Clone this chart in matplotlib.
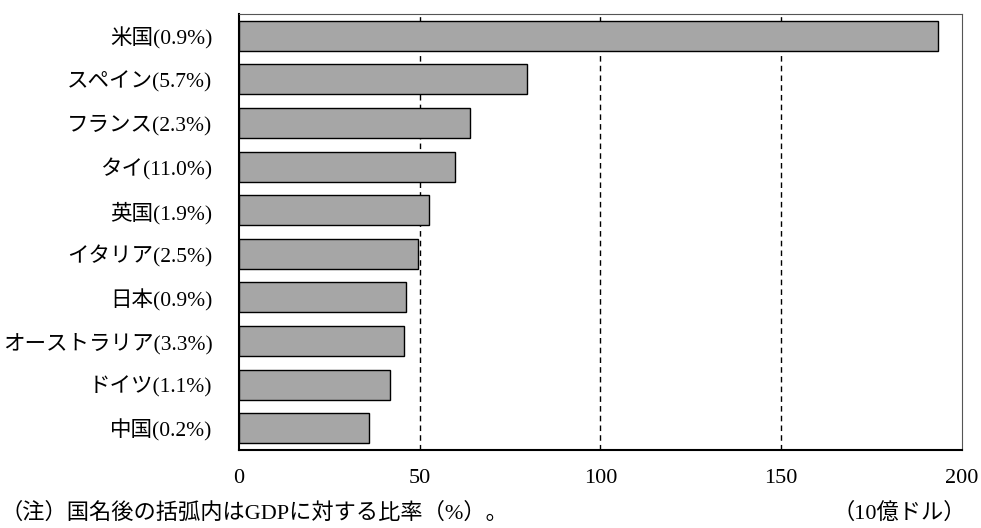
import matplotlib
matplotlib.use("Agg")
import matplotlib.pyplot as plt

categories = ["米国(0.9%)", "スペイン(5.7%)", "フランス(2.3%)", "タイ(11.0%)", "英国(1.9%)",
              "イタリア(2.5%)", "日本(0.9%)", "オーストラリア(3.3%)", "ドイツ(1.1%)", "中国(0.2%)"]
values = [193.4, 79.7, 63.9, 59.8, 52.7, 49.6, 46.2, 45.7, 41.9, 35.9]
xticks = [0, 50, 100, 150, 200]
note_left = "（注）国名後の括弧内はGDPに対する比率（%）。"
note_right = "（10億ドル）"

fam = ["Liberation Serif", "Noto Sans CJK JP", "DejaVu Sans"]
plt.rcParams["font.family"] = fam

fig = plt.figure(figsize=(9.81, 5.28), dpi=100)
ax = fig.add_axes([0.2436, 0.1477, 0.737, 0.8258])

y = list(range(len(categories)))
ax.barh(y, values, height=0.69, color="#a6a6a6", edgecolor="black", linewidth=1.0, zorder=3)
ax.set_ylim(len(categories) - 0.5, -0.5)
ax.set_xlim(0, 200)
ax.set_yticks(y)
ax.set_yticklabels(categories, fontsize=15.5)
ax.set_xticks(xticks)
ax.set_xticklabels([str(v) for v in xticks], fontsize=16)
ax.tick_params(axis="both", length=0)
ax.tick_params(axis="y", pad=19)
ax.tick_params(axis="x", pad=14)

for v in xticks[1:-1]:
    ax.axvline(v, color="black", linestyle=(0, (4, 3)), linewidth=1.0, zorder=1)

ax.spines["left"].set_linewidth(1.5)
ax.spines["bottom"].set_linewidth(1.5)
ax.spines["top"].set_linewidth(0.8)
ax.spines["right"].set_linewidth(0.8)
ax.spines["top"].set_color("#555555")
ax.spines["right"].set_color("#555555")

fig.text(0.0, 0.027, note_left, fontsize=16, ha="left", va="center")
fig.text(0.985, 0.027, note_right, fontsize=16, ha="right", va="center")

fig.savefig("out.png", dpi=100)
